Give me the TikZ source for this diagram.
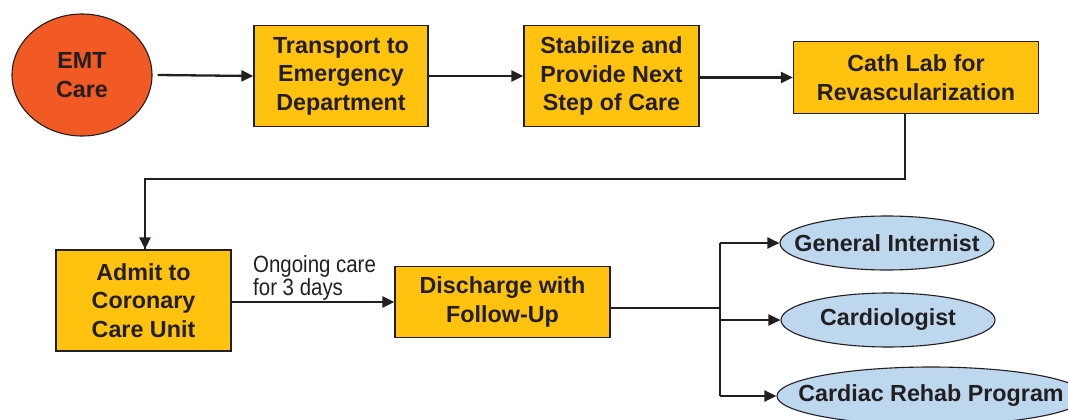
\documentclass[tikz,border=0pt]{standalone}
\usepackage{fontspec}
\setmainfont{Liberation Sans}
\newfontfamily\lblfont[FakeStretch=0.87]{Liberation Sans}
\usetikzlibrary{shapes.geometric,arrows.meta}
\definecolor{emtred}{HTML}{F15A24}
\definecolor{boxyel}{HTML}{FFC20E}
\definecolor{ovalblue}{HTML}{BDD7EE}
\definecolor{ink}{HTML}{231F20}
\newcommand{\zw}[1]{\makebox[0pt]{#1}}
\begin{document}
\begin{tikzpicture}[x=1pt,y=-1pt,
  txt/.style={text=ink,font=\fontsize{23.3}{28.5}\selectfont\bfseries,align=center,inner sep=0pt},
  stepbox/.style={txt,rectangle,draw=ink,line width=1.3pt,fill=boxyel},
  oval/.style={txt,ellipse,draw=ink,line width=1.1pt,fill=ovalblue,minimum width=214pt,minimum height=54pt},
  lbl/.style={text=ink,font=\lblfont\fontsize{23.5}{20.5}\selectfont,align=left,inner sep=0pt},
  arr/.style={draw=ink,line width=2.3pt,-{Triangle[length=12pt,width=11pt]}},
  link/.style={draw=ink,line width=1.5pt}]
\useasboundingbox (0,0) rectangle (1068,420);

\node[txt,ellipse,draw=ink,line width=1.1pt,fill=emtred,minimum width=140pt,minimum height=122pt] (emt) at (82,75) {\zw{EMT}\\\zw{Care}};
\node[stepbox,minimum width=174pt,minimum height=101pt] (trans) at (341,76) {Transport to\\Emergency\\Department};
\node[stepbox,minimum width=175pt,minimum height=101pt] (stab) at (611.5,76) {Stabilize and\\Provide Next\\Step of Care};
\node[stepbox,minimum width=245pt,minimum height=72pt] (cath) at (916,77.5) {Cath Lab for\\Revascularization};

\node[stepbox,minimum width=175pt,minimum height=101pt] (admit) at (143.5,300.5) {Admit to\\Coronary\\Care Unit};
\node[stepbox,minimum width=215pt,minimum height=71pt] (disc) at (502.5,302) {Discharge with\\Follow-Up};
\node[lbl,anchor=north west] (ongo) at (253,255) {Ongoing care\\for 3 days};

\node[oval] (gi) at (887,243) {\zw{General Internist}};
\node[oval] (card) at (888,320) {\zw{Cardiologist}};
\node[oval,minimum width=308pt,minimum height=58pt] (rehab) at (931,396) {\zw{Cardiac Rehab Program}};

\coordinate (turn) at (905,179);
\coordinate (split) at (720,308);

\draw[arr] ([xshift=5pt]emt.east) -- (trans.west);
\draw[arr] (trans.east) -- (stab.west);
\draw[arr] (stab.east |- cath.west) -- (cath.west);
\draw[link] (turn |- cath.south) -- (turn) -| ([xshift=1.5pt]admit.north);
\draw[arr] ([xshift=1.5pt]admit.north |- turn) -- ([xshift=1.5pt]admit.north);
\draw[arr] (admit.east |- disc.west) -- (disc.west);
\draw[link] (split -| disc.east) -- (split);
\draw[link] (split |- gi) -- (split |- rehab);
\draw[arr] (split |- gi) -- (gi.west);
\draw[arr] (split |- card) -- (card.west);
\draw[arr] (split |- rehab) -- (rehab.west);
\end{tikzpicture}
\end{document}
